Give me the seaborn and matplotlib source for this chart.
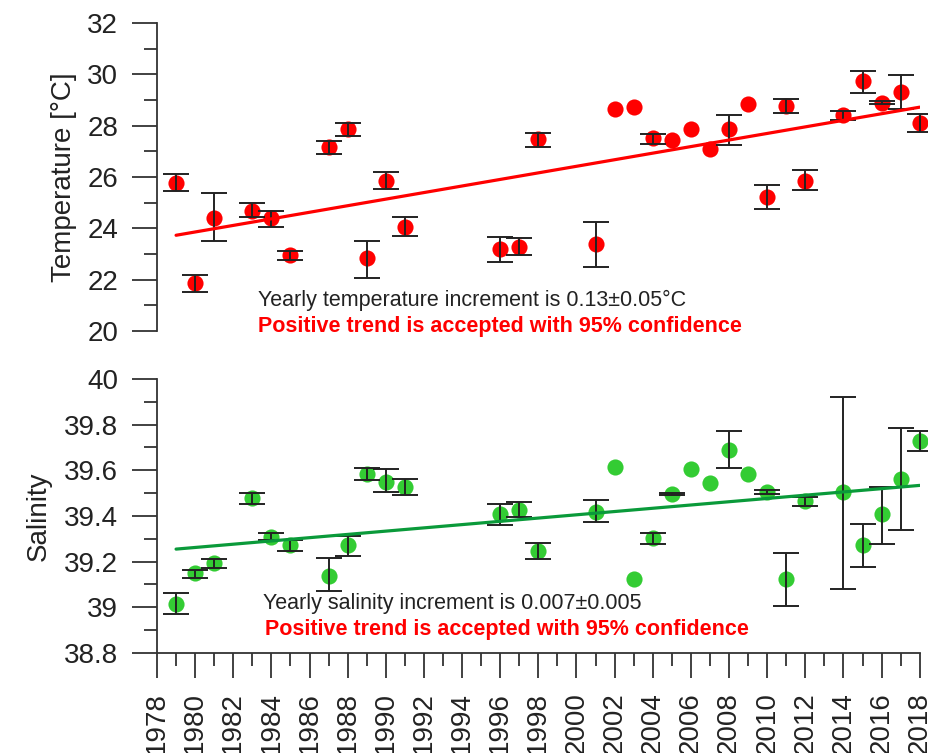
import numpy as np
import pandas as pd
import matplotlib
matplotlib.use("Agg")
import matplotlib.pyplot as plt
from matplotlib import ticker
import seaborn as sns

nan = np.nan

years = [1979, 1980, 1981, 1983, 1984, 1985, 1987, 1988, 1989, 1990, 1991,
         1996, 1997, 1998, 2001, 2002, 2003, 2004, 2005, 2006, 2007, 2008,
         2009, 2010, 2011, 2012, 2014, 2015, 2016, 2017, 2018]

temp = [25.78, 21.86, 24.39, 24.69, 24.39, 22.96, 27.16, 27.87, 22.83, 25.84, 24.07,
        23.18, 23.29, 27.47, 23.38, 28.64, 28.74, 27.51, 27.44, 27.87, 27.10, 27.86,
        28.83, 25.23, 28.77, 25.86, 28.42, 29.74, 28.90, 29.32, 28.12]
temp_hi = [26.12, 22.20, 25.37, 24.98, 24.69, 23.13, 27.39, 28.12, 23.52, 26.21, 24.46,
           23.65, 23.62, 27.73, 24.25, nan, nan, 27.68, nan, nan, nan, 28.42,
           nan, 25.68, 29.03, 26.26, 28.56, 30.12, 28.95, 29.96, 28.45]
temp_lo = [25.47, 21.52, 23.52, 24.43, 24.07, 22.76, 26.90, 27.60, 22.08, 25.52, 23.71,
           22.69, 22.97, 27.18, 22.48, nan, nan, 27.29, nan, nan, nan, 27.26,
           nan, 24.74, 28.48, 25.51, 28.22, 29.26, 28.85, 28.64, 27.74]

sal = [39.013, 39.149, 39.196, 39.477, 39.309, 39.273, 39.138, 39.273, 39.584, 39.550, 39.526,
       39.407, 39.426, 39.248, 39.417, 39.613, 39.124, 39.302, 39.495, 39.606, 39.543, 39.689,
       39.583, 39.507, 39.124, 39.466, 39.507, 39.273, 39.407, 39.561, 39.730]
sal_hi = [39.064, 39.163, 39.213, 39.502, 39.327, 39.295, 39.214, 39.312, 39.611, 39.604, 39.560,
          39.451, 39.461, 39.280, 39.470, nan, nan, 39.327, 39.500, nan, nan, 39.774,
          nan, 39.514, 39.239, 39.485, 39.922, 39.365, 39.528, 39.784, 39.774]
sal_lo = [38.969, 39.127, 39.172, 39.452, 39.295, 39.247, 39.071, 39.225, 39.558, 39.505, 39.493,
          39.359, 39.397, 39.212, 39.374, nan, nan, 39.279, 39.490, nan, nan, 39.611,
          nan, 39.495, 39.006, 39.444, 39.079, 39.177, 39.276, 39.339, 39.686]

# trend line ends
trend_years = [1979, 2018]
temp_trend = [23.73, 28.72]
sal_trend = [39.255, 39.534]

temp_text = "Yearly temperature increment is 0.13\u00b10.05\u00b0C"
sal_text = "Yearly salinity increment is 0.007\u00b10.005"
conf_text = "Positive trend is accepted with 95% confidence"

sns.set_style("ticks")
plt.rcParams['font.family'] = ['Liberation Sans', 'DejaVu Sans']

df = pd.DataFrame({'year': years, 'temp': temp, 'temp_hi': temp_hi, 'temp_lo': temp_lo,
                   'sal': sal, 'sal_hi': sal_hi, 'sal_lo': sal_lo})
trend = pd.DataFrame({'year': trend_years, 'temp': temp_trend, 'sal': sal_trend})

fig = plt.figure(figsize=(9.29, 7.53), dpi=100)
ax1 = fig.add_axes([0.169, 0.5604, 0.821, 0.4091])
ax2 = fig.add_axes([0.169, 0.1328, 0.821, 0.3639], sharex=ax1)

axis_col = '#333333'


def draw_panel(ax, col, hi, lo, color, line_color):
    sns.scatterplot(data=df, x='year', y=col, color=color, s=135, linewidth=0,
                    ax=ax, zorder=2, clip_on=False, legend=False)
    sns.lineplot(data=trend, x='year', y=col, color=line_color, linewidth=2.3,
                 ax=ax, zorder=4)
    e = df.dropna(subset=[hi, lo])
    ax.errorbar(e['year'], e[col], yerr=[e[col] - e[lo], e[hi] - e[col]],
                fmt='none', ecolor='#222222', elinewidth=1.4, capsize=9.5,
                capthick=1.4, zorder=3, clip_on=False)
    ax.set_xlabel('')
    for s in ['top', 'right']:
        ax.spines[s].set_visible(False)
    ax.spines['left'].set_color(axis_col)
    ax.spines['left'].set_linewidth(1.3)
    ax.tick_params(axis='y', which='major', length=18, width=1.3, pad=10,
                   labelsize=20, colors=axis_col, labelcolor='#222222')
    ax.tick_params(axis='y', which='minor', length=9.5, width=1.3, colors=axis_col)
    ax.yaxis.set_major_formatter(ticker.FuncFormatter(lambda v, p: f"{v:g}"))


draw_panel(ax1, 'temp', 'temp_hi', 'temp_lo', '#ff0000', '#ff0000')
draw_panel(ax2, 'sal', 'sal_hi', 'sal_lo', '#33cc33', '#0a9a3a')

ax1.set_ylim(20, 32)
ax1.yaxis.set_major_locator(ticker.MultipleLocator(2))
ax1.yaxis.set_minor_locator(ticker.MultipleLocator(1))
ax1.spines['bottom'].set_visible(False)
ax1.tick_params(axis='x', which='both', bottom=False, labelbottom=False)
ax1.set_ylabel('Temperature [\u00b0C]', fontsize=20, color='#222222')
ax1.yaxis.set_label_coords(-0.105, 0.5)

ax2.set_ylim(38.8, 40)
ax2.yaxis.set_major_locator(ticker.MultipleLocator(0.2))
ax2.yaxis.set_minor_locator(ticker.MultipleLocator(0.1))
ax2.set_xlim(1978, 2018)
ax2.xaxis.set_major_locator(ticker.MultipleLocator(2))
ax2.xaxis.set_minor_locator(ticker.MultipleLocator(1))
ax2.spines['bottom'].set_color(axis_col)
ax2.spines['bottom'].set_linewidth(1.3)
ax2.tick_params(axis='x', which='major', length=18, width=1.3, pad=10,
                labelsize=20, colors=axis_col, labelcolor='#222222', labelrotation=90)
ax2.tick_params(axis='x', which='minor', length=9.5, width=1.3, colors=axis_col)
ax2.set_ylabel('Salinity', fontsize=20, color='#222222')
ax2.yaxis.set_label_coords(-0.138, 0.5)

ax1.text(0.132, 0.081, temp_text, transform=ax1.transAxes, fontsize=15.5,
         color='#222222', va='baseline')
ax1.text(0.132, -0.002, conf_text, transform=ax1.transAxes, fontsize=15.5,
         color='#ff0000', fontweight='bold', va='baseline')
ax2.text(0.139, 0.159, sal_text, transform=ax2.transAxes, fontsize=15.5,
         color='#222222', va='baseline')
ax2.text(0.142, 0.065, conf_text, transform=ax2.transAxes, fontsize=15.5,
         color='#ff0000', fontweight='bold', va='baseline')

fig.savefig('out.png', dpi=100)
